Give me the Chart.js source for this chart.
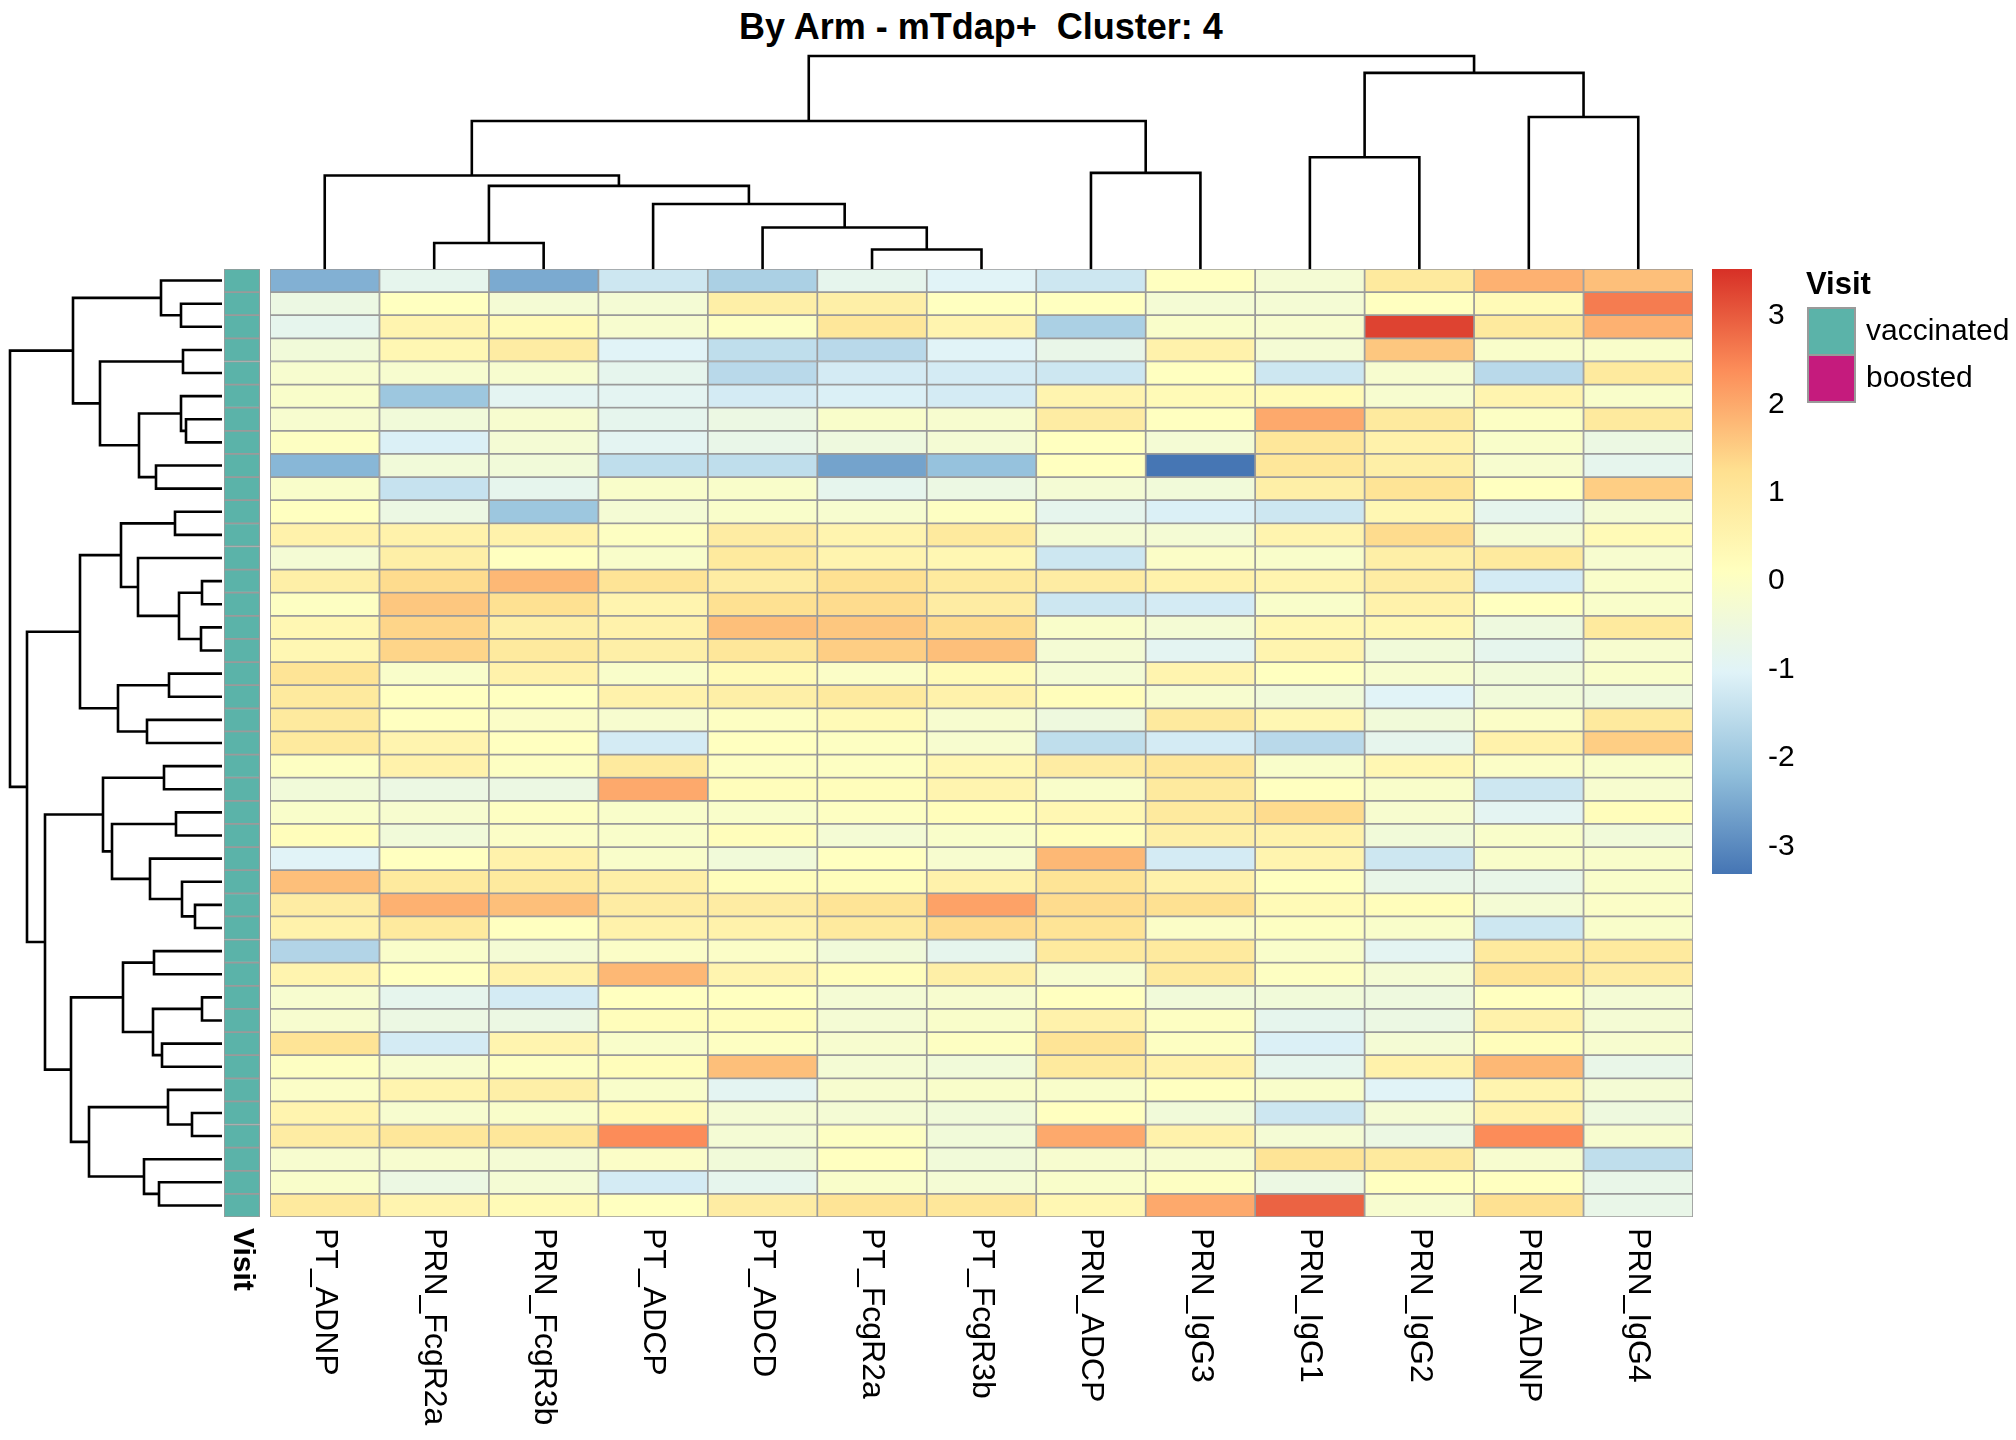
<!DOCTYPE html>
<html>
<head>
<meta charset="utf-8">
<script src="https://cdn.jsdelivr.net/npm/chart.js@4/dist/chart.umd.min.js"></script>
<style>
  body { margin: 0; width: 2016px; height: 1440px; background: #fff; overflow: hidden; font-family: "Liberation Sans", Arial, sans-serif; }
  .box { position: absolute; }
  #title { position: absolute; left: 0; width: 1962px; top: 6px; text-align: center; font: bold 36px "Liberation Sans", Arial, sans-serif; }
</style>
</head>
<body>
<div id="title">By Arm - mTdap+&nbsp; Cluster: 4</div>
<div class="box" style="left:0px;top:265px;width:230px;height:956px"><canvas id="rowDendro"></canvas></div>
<div class="box" style="left:266px;top:50px;width:1431px;height:223px"><canvas id="colDendro"></canvas></div>
<div class="box" style="left:224px;top:269px;width:36px;height:1170px"><canvas id="annot"></canvas></div>
<div class="box" style="left:270px;top:269px;width:1423px;height:1170px"><canvas id="heat"></canvas></div>
<div class="box" style="left:1700px;top:260px;width:316px;height:640px"><canvas id="legend"></canvas></div>
<script>
// column labels, in dendrogram order
const colLabels = ["PT_ADNP", "PRN_FcgR2a", "PRN_FcgR3b", "PT_ADCP", "PT_ADCD", "PT_FcgR2a", "PT_FcgR3b",
  "PRN_ADCP", "PRN_IgG3", "PRN_IgG1", "PRN_IgG2", "PRN_ADNP", "PRN_IgG4"];

// scaled values, one row per sample (top to bottom)
const r01 = [-2.4, -0.8, -2.5, -1.3, -1.8, -0.8, -1.0, -1.3, 0.1, -0.3, 0.9, 1.9, 1.7];
const r02 = [-0.6, 0.1, -0.3, -0.3, 0.7, 0.7, 0.1, 0.1, -0.3, -0.3, 0.1, 0.3, 2.6];
const r03 = [-0.8, 0.5, 0.3, -0.2, 0.05, 1.0, 0.5, -1.8, -0.1, -0.2, 3.3, 0.9, 1.9];
const r04 = [-0.4, 0.4, 0.8, -1.0, -1.5, -1.6, -1.0, -0.7, 0.6, -0.3, 1.6, -0.1, -0.1];
const r05 = [-0.2, -0.2, -0.2, -0.8, -1.6, -1.2, -1.2, -1.3, 0.1, -1.3, -0.2, -1.6, 0.9];
const r06 = [-0.1, -2.0, -0.9, -0.9, -1.2, -1.1, -1.2, 0.5, 0.3, 0.3, -0.2, 0.5, -0.1];
const r07 = [-0.2, -0.4, -0.2, -0.8, -0.6, -0.1, -0.2, 0.8, 0.1, 2.0, 0.9, 0.0, 0.9];
const r08 = [0.05, -1.1, -0.3, -0.9, -0.7, -0.5, -0.3, 0.1, -0.3, 1.0, 0.6, -0.1, -0.6];
const r09 = [-2.3, -0.4, -0.4, -1.5, -1.5, -2.6, -2.1, 0.1, -3.3, 1.0, 0.7, -0.2, -0.8];
const r10 = [-0.1, -1.4, -0.8, -0.1, -0.1, -0.8, -0.6, -0.3, -0.4, 0.7, 1.1, 0.1, 1.5];
const r11 = [0.1, -0.6, -2.0, -0.3, -0.1, -0.2, 0.05, -0.8, -1.1, -1.3, 0.4, -0.8, -0.3];
const r12 = [0.6, 0.6, 0.6, 0.05, 0.8, 0.5, 0.9, -0.3, -0.3, 0.5, 1.3, -0.3, 0.3];
const r13 = [-0.3, 0.7, 0.1, -0.1, 0.9, 0.5, 0.4, -1.3, -0.05, -0.1, 0.7, 0.9, -0.2];
const r14 = [0.7, 1.3, 1.8, 1.1, 0.8, 1.2, 0.9, 0.8, 0.6, 0.5, 0.8, -1.2, -0.1];
const r15 = [0.05, 1.6, 1.2, 0.5, 1.2, 1.3, 0.8, -1.3, -1.2, -0.1, 0.6, 0.1, -0.1];
const r16 = [0.4, 1.4, 0.7, 0.6, 1.7, 1.6, 1.3, -0.1, -0.3, 0.4, 0.4, -0.5, 0.9];
const r17 = [0.4, 1.4, 0.9, 0.7, 1.0, 1.5, 1.7, -0.3, -0.9, 0.5, -0.4, -0.8, -0.2];
const r18 = [1.1, -0.1, 0.6, -0.1, 0.3, -0.05, 0.3, -0.3, 0.5, 0.1, -0.2, -0.4, -0.1];
const r19 = [0.9, 0.1, 0.1, 0.6, 0.7, 0.9, 0.6, 0.2, -0.2, -0.4, -1.0, -0.4, -0.5];
const r20 = [0.9, 0.1, -0.05, -0.2, 0.05, 0.3, -0.2, -0.5, 0.9, 0.4, -0.4, -0.05, 0.9];
const r21 = [0.9, 0.5, 0.1, -1.2, 0.1, 0.05, -0.2, -1.5, -1.2, -1.6, -0.8, 0.6, 1.5];
const r22 = [0.05, 0.6, 0.05, 0.9, 0.05, 0.05, 0.4, 0.8, 1.0, -0.1, 0.4, -0.05, -0.1];
const r23 = [-0.4, -0.6, -0.6, 2.0, 0.2, 0.2, 0.5, -0.1, 0.9, 0.1, -0.1, -1.3, -0.2];
const r24 = [-0.1, -0.2, 0.05, -0.1, -0.1, 0.05, 0.2, 0.4, 0.9, 1.3, -0.2, -0.9, 0.2];
const r25 = [0.2, -0.4, -0.05, -0.1, 0.2, -0.3, -0.1, 0.2, 0.7, 0.6, -0.4, -0.1, -0.4];
const r26 = [-1.0, 0.1, 0.6, -0.1, -0.4, 0.1, -0.2, 1.8, -1.2, 0.5, -1.3, -0.1, -0.1];
const r27 = [1.7, 0.9, 0.9, 0.7, 0.2, 0.2, 0.6, 1.1, 0.6, 0.1, -0.7, -0.7, -0.1];
const r28 = [0.8, 1.9, 1.7, 0.8, 0.8, 1.1, 2.1, 1.3, 1.2, 0.3, 0.2, -0.3, -0.05];
const r29 = [0.6, 0.9, 0.1, 0.6, 0.6, 0.9, 1.3, 1.1, -0.05, 0.05, -0.1, -1.3, -0.1];
const r30 = [-1.7, -0.1, -0.3, -0.05, -0.05, -0.4, -0.8, 0.9, 0.9, -0.1, -0.9, 0.9, 0.9];
const r31 = [0.5, 0.1, 0.6, 1.8, 0.5, 0.2, 0.7, -0.2, 0.9, 0.05, -0.3, 1.1, 0.8];
const r32 = [-0.2, -0.8, -1.2, 0.1, 0.1, -0.3, -0.2, 0.1, -0.4, -0.4, -0.5, 0.1, -0.3];
const r33 = [-0.2, -0.6, -0.6, 0.2, 0.2, -0.3, -0.1, 0.6, 0.05, -0.8, -0.6, 0.6, -0.3];
const r34 = [1.1, -1.2, 0.5, -0.1, 0.05, -0.2, 0.05, 1.1, 0.05, -1.1, -0.3, 0.2, -0.2];
const r35 = [0.05, -0.2, 0.05, 0.2, 1.7, -0.3, -0.4, 0.9, 0.6, -0.8, 0.6, 1.8, -0.7];
const r36 = [-0.05, 0.5, 0.7, -0.1, -0.9, -0.2, -0.1, -0.1, 0.1, -0.1, -1.0, 0.5, -0.3];
const r37 = [0.5, -0.2, -0.1, 0.3, -0.3, -0.3, -0.4, 0.1, -0.4, -1.3, -0.3, 0.6, -0.5];
const r38 = [0.8, 1.0, 1.0, 2.4, -0.3, 0.05, -0.4, 2.0, 0.6, -0.3, -0.6, 2.4, -0.2];
const r39 = [-0.2, -0.2, -0.3, -0.05, -0.4, 0.1, -0.4, -0.2, -0.2, 1.1, 0.9, -0.2, -1.5];
const r40 = [-0.1, -0.6, -0.3, -1.2, -0.8, -0.1, -0.3, -0.1, 0.05, -0.6, 0.1, 0.1, -0.7];
const r41 = [0.9, 0.5, 0.3, 0.1, 0.8, 1.1, 1.0, 0.4, 2.0, 2.9, -0.2, 1.2, -0.7];
const rows = [r01, r02, r03, r04, r05, r06, r07, r08, r09, r10, r11, r12, r13, r14, r15, r16, r17, r18, r19, r20,
  r21, r22, r23, r24, r25, r26, r27, r28, r29, r30, r31, r32, r33, r34, r35, r36, r37, r38, r39, r40, r41];

// hclust style merges: positive = leaf (1-based), negative = earlier merge; third = height
const colMerges = [[2, 3, 20], [6, 7, 15], [5, -2, 32], [4, -3, 50], [-1, -4, 64], [1, -5, 72], [8, 9, 74],
  [-6, -7, 114], [10, 11, 86], [12, 13, 117], [-9, -10, 151], [-8, -11, 164]];
const rowMerges = [[2, 3, 41], [1, -1, 61], [4, 5, 39], [7, 8, 36], [6, -4, 41], [9, 10, 66], [-5, -6, 83],
  [-3, -7, 122], [-2, -8, 149], [11, 12, 47], [14, 15, 20], [16, 17, 21], [-11, -12, 43], [13, -13, 84],
  [-10, -14, 101], [18, 19, 53], [20, 21, 75], [-16, -17, 104], [-15, -18, 142], [22, 23, 58], [24, 25, 46],
  [28, 29, 27], [27, -22, 40], [26, -23, 72], [-21, -24, 110], [-20, -25, 119], [30, 31, 68], [32, 33, 20],
  [34, 35, 60], [-28, -29, 69], [-27, -30, 99], [37, 38, 30], [36, -32, 54], [40, 41, 63], [39, -34, 78],
  [-33, -35, 133], [-31, -36, 151], [-26, -37, 177], [-19, -38, 195], [-9, -39, 212]];

const colorTicks = [3, 2, 1, 0, -1, -2, -3];
const scaleMin = -3.31, scaleMax = 3.53;
const palette = ["#4575B4", "#91BFDB", "#E0F3F8", "#FFFFBF", "#FEE090", "#FC8D59", "#D73027"];
const visitLevels = ["vaccinated", "boosted"];
const visitColors = ["#5BB3A9", "#C51B7D"];

Chart.defaults.font.family = '"Liberation Sans", Arial, sans-serif';
Chart.defaults.animation = false;
Chart.defaults.responsive = false;
Chart.defaults.devicePixelRatio = 1;
Chart.defaults.plugins.legend.display = false;
Chart.defaults.plugins.tooltip.enabled = false;

function hexToRgb(h) {
  return [parseInt(h.slice(1, 3), 16), parseInt(h.slice(3, 5), 16), parseInt(h.slice(5, 7), 16)];
}
function colorFor(v) {
  let t = (v - scaleMin) / (scaleMax - scaleMin);
  t = Math.max(0, Math.min(1, t)) * (palette.length - 1);
  let i = Math.min(Math.floor(t), palette.length - 2), f = t - i;
  let a = hexToRgb(palette[i]), b = hexToRgb(palette[i + 1]);
  let c = a.map((x, k) => Math.round(x + (b[k] - x) * f));
  return "rgb(" + c.join(",") + ")";
}

function sizeCanvas(id) {
  let cv = document.getElementById(id);
  cv.width = cv.parentNode.offsetWidth;
  cv.height = cv.parentNode.offsetHeight;
  return cv;
}

// turn merges into U-shaped line datasets; flip=true puts height on the x axis
function dendroDatasets(merges, flip) {
  let nodes = [], sets = [];
  const info = (id) => id > 0 ? { p: id - 1, h: 0 } : nodes[-id - 1];
  for (let m of merges) {
    let a = info(m[0]), b = info(m[1]), H = m[2];
    let pts = [[a.p, a.h], [a.p, H], [b.p, H], [b.p, b.h]];
    sets.push({
      data: pts.map(q => flip ? { x: q[1], y: q[0] } : { x: q[0], y: q[1] }),
      showLine: true, borderColor: "#000", borderWidth: 2.6, pointRadius: 0, clip: false
    });
    nodes.push({ p: (a.p + b.p) / 2, h: H });
  }
  return sets;
}

// top dendrogram
new Chart(sizeCanvas("colDendro"), {
  type: "scatter",
  data: { datasets: dendroDatasets(colMerges, false) },
  options: {
    layout: { padding: { left: 4, right: 4, top: 6, bottom: 4 } },
    scales: {
      x: { display: false, min: -0.5, max: colLabels.length - 0.5 },
      y: { display: false, min: 0, max: 164 }
    }
  }
});

// left dendrogram
new Chart(sizeCanvas("rowDendro"), {
  type: "scatter",
  data: { datasets: dendroDatasets(rowMerges, true) },
  options: {
    layout: { padding: { left: 10, right: 8, top: 4, bottom: 4 } },
    scales: {
      x: { display: false, min: 0, max: 212, reverse: true },
      y: { display: false, min: -0.5, max: rows.length - 0.5, reverse: true }
    }
  }
});

const labelPlugin = {
  id: "colLabels",
  afterDraw(chart, args, opts) {
    const ctx = chart.ctx, xs = chart.scales.x, top = chart.chartArea.bottom + 11;
    ctx.save();
    ctx.fillStyle = "#000";
    ctx.font = opts.font;
    ctx.textBaseline = "middle";
    ctx.textAlign = "left";
    opts.labels.forEach((lab, i) => {
      ctx.save();
      ctx.translate(xs.getPixelForValue(i), top);
      ctx.rotate(Math.PI / 2);
      ctx.fillText(lab, 0, 0);
      ctx.restore();
    });
    ctx.restore();
  }
};

function stackedCells(colorsOf) {
  return rows.map((r, i) => ({
    data: colorsOf(r).map(() => 1),
    backgroundColor: colorsOf(r),
    borderColor: "#9a9a9a",
    borderWidth: 1.2,
    borderSkipped: false,
    barPercentage: 1,
    categoryPercentage: 1
  }));
}

// heatmap body
new Chart(sizeCanvas("heat"), {
  type: "bar",
  data: { labels: colLabels, datasets: stackedCells(r => r.map(colorFor)) },
  options: {
    layout: { padding: { bottom: 1170 - 948 } },
    scales: {
      x: { display: false, stacked: true },
      y: { display: false, stacked: true, min: 0, max: rows.length, reverse: true }
    },
    plugins: { colLabels: { labels: colLabels, font: "32px 'Liberation Sans', Arial, sans-serif" } }
  },
  plugins: [labelPlugin]
});

// Visit annotation column
new Chart(sizeCanvas("annot"), {
  type: "bar",
  data: { labels: ["Visit"], datasets: stackedCells(r => [visitColors[0]]) },
  options: {
    layout: { padding: { bottom: 1170 - 948 } },
    scales: {
      x: { display: false, stacked: true },
      y: { display: false, stacked: true, min: 0, max: rows.length, reverse: true }
    },
    plugins: { colLabels: { labels: ["Visit"], font: "bold 30px 'Liberation Sans', Arial, sans-serif" } }
  },
  plugins: [labelPlugin]
});

// colour key and Visit legend
const keyPlugin = {
  id: "key",
  afterDraw(chart) {
    const ctx = chart.ctx, a = chart.chartArea, ys = chart.scales.y;
    ctx.save();
    const g = ctx.createLinearGradient(0, ys.getPixelForValue(scaleMin), 0, ys.getPixelForValue(scaleMax));
    palette.forEach((c, i) => g.addColorStop(i / (palette.length - 1), c));
    ctx.fillStyle = g;
    ctx.fillRect(a.left, a.top, a.right - a.left, a.bottom - a.top);
    ctx.fillStyle = "#000";
    ctx.font = "30px 'Liberation Sans', Arial, sans-serif";
    ctx.textBaseline = "middle";
    ctx.textAlign = "left";
    colorTicks.forEach(t => ctx.fillText(String(t), a.right + 16, ys.getPixelForValue(t)));
    // Visit legend
    ctx.font = "bold 31px 'Liberation Sans', Arial, sans-serif";
    ctx.textBaseline = "alphabetic";
    ctx.fillText("Visit", 106, 34);
    ctx.font = "30px 'Liberation Sans', Arial, sans-serif";
    ctx.textBaseline = "middle";
    visitLevels.forEach((lab, i) => {
      const y0 = 48 + i * 47;
      ctx.fillStyle = visitColors[i];
      ctx.fillRect(108, y0, 47, 47);
      ctx.strokeStyle = "#9a9a9a";
      ctx.lineWidth = 2;
      ctx.strokeRect(108, y0, 47, 47);
      ctx.fillStyle = "#000";
      ctx.fillText(lab, 166, y0 + 24);
    });
    ctx.restore();
  }
};

new Chart(sizeCanvas("legend"), {
  type: "scatter",
  data: { datasets: [{ data: [] }] },
  options: {
    layout: { padding: { left: 12, top: 9, right: 264, bottom: 26 } },
    scales: {
      x: { display: false, min: 0, max: 1 },
      y: { display: false, min: scaleMin, max: scaleMax }
    }
  },
  plugins: [keyPlugin]
});
</script>
</body>
</html>
